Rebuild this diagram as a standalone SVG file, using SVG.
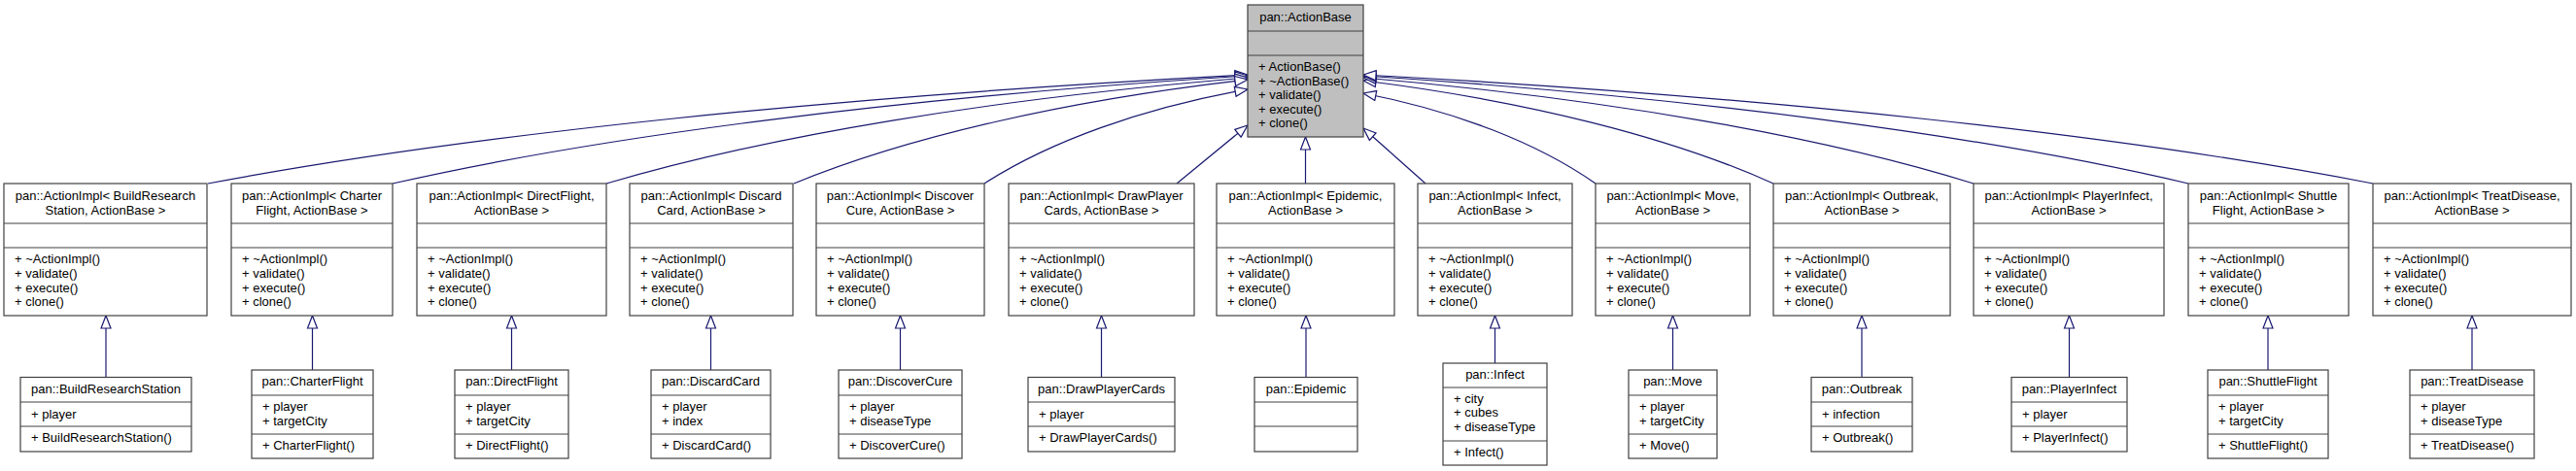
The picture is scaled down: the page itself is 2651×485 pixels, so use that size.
<svg xmlns="http://www.w3.org/2000/svg" width="2651" height="485" viewBox="0 0 2651 485">
<style>
.bx{fill:#ffffff;stroke:#404040;stroke-width:1.2}
.base{fill:#bfbfbf}
.sp{stroke:#404040;stroke-width:1.2}
text{font-family:"Liberation Sans",Arial,Helvetica,sans-serif;font-size:13px;fill:#000000}
.c{text-anchor:middle}
.e{fill:none;stroke:#191970;stroke-width:1.2;marker-end:url(#tri)}
</style>
<defs>
<marker id="tri" markerUnits="userSpaceOnUse" markerWidth="16" markerHeight="12" viewBox="-1 -1 16 12" refX="13" refY="5" orient="auto" overflow="visible">
<path d="M0,0 L13,5 L0,10 Z" fill="#ffffff" stroke="#191970" stroke-width="1.2"/>
</marker>
</defs>
<rect width="2651" height="485" fill="#ffffff"/>

<g id="connectors">
<path class="e" d="M214,189 C481.5,138.6 856,99.4 1284,77"/>
<path class="e" d="M404,189 C624,139 932,100.2 1284,78"/>
<path class="e" d="M624,189 C789,140 1020,101.8 1284,80"/>
<path class="e" d="M817,189 C933.75,140.85 1097.2,103.4 1284,82"/>
<path class="e" d="M1013,189 C1080.75,145.35 1175.6,111.4 1284,92"/>
<path class="e" d="M1211,189 L1284,129"/>
<path class="e" d="M1343.5,189 L1343.5,141"/>
<path class="e" d="M1467,189 L1403,132"/>
<path class="e" d="M1642,189 C1582.25,147.15 1498.6,114.6 1403,96"/>
<path class="e" d="M1825,189 C1719.5,141.3 1571.8,104.2 1403,83"/>
<path class="e" d="M2031,189 C1874,140 1654.2,101.8 1403,80"/>
<path class="e" d="M2252,189 C2039.75,139 1742.6,100.2 1403,78"/>
<path class="e" d="M2442,189 C2182.25,138.6 1818.6,99.4 1403,77"/>
<path class="e" d="M109,388.5 L109,325"/>
<path class="e" d="M321.5,381 L321.5,325"/>
<path class="e" d="M526.5,381 L526.5,325"/>
<path class="e" d="M731.5,381 L731.5,325"/>
<path class="e" d="M926.5,381 L926.5,325"/>
<path class="e" d="M1133.5,388.5 L1133.5,325"/>
<path class="e" d="M1344,388.5 L1344,325"/>
<path class="e" d="M1538.5,374 L1538.5,325"/>
<path class="e" d="M1721.5,381 L1721.5,325"/>
<path class="e" d="M1916,388.5 L1916,325"/>
<path class="e" d="M2129.5,388.5 L2129.5,325"/>
<path class="e" d="M2334,381 L2334,325"/>
<path class="e" d="M2544,381 L2544,325"/>
</g>

<g id="ActionBase">
<rect class="bx base" x="1284" y="5" width="119" height="136"/>
<line class="sp" x1="1284" y1="32" x2="1403" y2="32"/>
<line class="sp" x1="1284" y1="57" x2="1403" y2="57"/>
<text class="c" x="1343.5" y="21.5">pan::ActionBase</text>
<text x="1295" y="73">+ ActionBase()</text>
<text x="1295" y="87.6">+ ~ActionBase()</text>
<text x="1295" y="102.2">+ validate()</text>
<text x="1295" y="116.8">+ execute()</text>
<text x="1295" y="131.4">+ clone()</text>
</g>

<g id="ActionImpl_BuildResearchStation">
<rect class="bx" x="4" y="189" width="209" height="136"/>
<line class="sp" x1="4" y1="230" x2="213" y2="230"/>
<line class="sp" x1="4" y1="255" x2="213" y2="255"/>
<text class="c" x="108.5" y="206.3">pan::ActionImpl&lt; BuildResearch</text>
<text class="c" x="108.5" y="220.6">Station, ActionBase &gt;</text>
<text x="15" y="271.3">+ ~ActionImpl()</text>
<text x="15" y="285.9">+ validate()</text>
<text x="15" y="300.5">+ execute()</text>
<text x="15" y="315.1">+ clone()</text>
</g>

<g id="ActionImpl_CharterFlight">
<rect class="bx" x="238" y="189" width="166" height="136"/>
<line class="sp" x1="238" y1="230" x2="404" y2="230"/>
<line class="sp" x1="238" y1="255" x2="404" y2="255"/>
<text class="c" x="321" y="206.3">pan::ActionImpl&lt; Charter</text>
<text class="c" x="321" y="220.6">Flight, ActionBase &gt;</text>
<text x="249" y="271.3">+ ~ActionImpl()</text>
<text x="249" y="285.9">+ validate()</text>
<text x="249" y="300.5">+ execute()</text>
<text x="249" y="315.1">+ clone()</text>
</g>

<g id="ActionImpl_DirectFlight">
<rect class="bx" x="429" y="189" width="195" height="136"/>
<line class="sp" x1="429" y1="230" x2="624" y2="230"/>
<line class="sp" x1="429" y1="255" x2="624" y2="255"/>
<text class="c" x="526.5" y="206.3">pan::ActionImpl&lt; DirectFlight,</text>
<text class="c" x="526.5" y="220.6">ActionBase &gt;</text>
<text x="440" y="271.3">+ ~ActionImpl()</text>
<text x="440" y="285.9">+ validate()</text>
<text x="440" y="300.5">+ execute()</text>
<text x="440" y="315.1">+ clone()</text>
</g>

<g id="ActionImpl_DiscardCard">
<rect class="bx" x="648" y="189" width="168" height="136"/>
<line class="sp" x1="648" y1="230" x2="816" y2="230"/>
<line class="sp" x1="648" y1="255" x2="816" y2="255"/>
<text class="c" x="732" y="206.3">pan::ActionImpl&lt; Discard</text>
<text class="c" x="732" y="220.6">Card, ActionBase &gt;</text>
<text x="659" y="271.3">+ ~ActionImpl()</text>
<text x="659" y="285.9">+ validate()</text>
<text x="659" y="300.5">+ execute()</text>
<text x="659" y="315.1">+ clone()</text>
</g>

<g id="ActionImpl_DiscoverCure">
<rect class="bx" x="840" y="189" width="173" height="136"/>
<line class="sp" x1="840" y1="230" x2="1013" y2="230"/>
<line class="sp" x1="840" y1="255" x2="1013" y2="255"/>
<text class="c" x="926.5" y="206.3">pan::ActionImpl&lt; Discover</text>
<text class="c" x="926.5" y="220.6">Cure, ActionBase &gt;</text>
<text x="851" y="271.3">+ ~ActionImpl()</text>
<text x="851" y="285.9">+ validate()</text>
<text x="851" y="300.5">+ execute()</text>
<text x="851" y="315.1">+ clone()</text>
</g>

<g id="ActionImpl_DrawPlayerCards">
<rect class="bx" x="1038" y="189" width="191" height="136"/>
<line class="sp" x1="1038" y1="230" x2="1229" y2="230"/>
<line class="sp" x1="1038" y1="255" x2="1229" y2="255"/>
<text class="c" x="1133.5" y="206.3">pan::ActionImpl&lt; DrawPlayer</text>
<text class="c" x="1133.5" y="220.6">Cards, ActionBase &gt;</text>
<text x="1049" y="271.3">+ ~ActionImpl()</text>
<text x="1049" y="285.9">+ validate()</text>
<text x="1049" y="300.5">+ execute()</text>
<text x="1049" y="315.1">+ clone()</text>
</g>

<g id="ActionImpl_Epidemic">
<rect class="bx" x="1252" y="189" width="183" height="136"/>
<line class="sp" x1="1252" y1="230" x2="1435" y2="230"/>
<line class="sp" x1="1252" y1="255" x2="1435" y2="255"/>
<text class="c" x="1343.5" y="206.3">pan::ActionImpl&lt; Epidemic,</text>
<text class="c" x="1343.5" y="220.6">ActionBase &gt;</text>
<text x="1263" y="271.3">+ ~ActionImpl()</text>
<text x="1263" y="285.9">+ validate()</text>
<text x="1263" y="300.5">+ execute()</text>
<text x="1263" y="315.1">+ clone()</text>
</g>

<g id="ActionImpl_Infect">
<rect class="bx" x="1459" y="189" width="159" height="136"/>
<line class="sp" x1="1459" y1="230" x2="1618" y2="230"/>
<line class="sp" x1="1459" y1="255" x2="1618" y2="255"/>
<text class="c" x="1538.5" y="206.3">pan::ActionImpl&lt; Infect,</text>
<text class="c" x="1538.5" y="220.6">ActionBase &gt;</text>
<text x="1470" y="271.3">+ ~ActionImpl()</text>
<text x="1470" y="285.9">+ validate()</text>
<text x="1470" y="300.5">+ execute()</text>
<text x="1470" y="315.1">+ clone()</text>
</g>

<g id="ActionImpl_Move">
<rect class="bx" x="1642" y="189" width="159" height="136"/>
<line class="sp" x1="1642" y1="230" x2="1801" y2="230"/>
<line class="sp" x1="1642" y1="255" x2="1801" y2="255"/>
<text class="c" x="1721.5" y="206.3">pan::ActionImpl&lt; Move,</text>
<text class="c" x="1721.5" y="220.6">ActionBase &gt;</text>
<text x="1653" y="271.3">+ ~ActionImpl()</text>
<text x="1653" y="285.9">+ validate()</text>
<text x="1653" y="300.5">+ execute()</text>
<text x="1653" y="315.1">+ clone()</text>
</g>

<g id="ActionImpl_Outbreak">
<rect class="bx" x="1825" y="189" width="182" height="136"/>
<line class="sp" x1="1825" y1="230" x2="2007" y2="230"/>
<line class="sp" x1="1825" y1="255" x2="2007" y2="255"/>
<text class="c" x="1916" y="206.3">pan::ActionImpl&lt; Outbreak,</text>
<text class="c" x="1916" y="220.6">ActionBase &gt;</text>
<text x="1836" y="271.3">+ ~ActionImpl()</text>
<text x="1836" y="285.9">+ validate()</text>
<text x="1836" y="300.5">+ execute()</text>
<text x="1836" y="315.1">+ clone()</text>
</g>

<g id="ActionImpl_PlayerInfect">
<rect class="bx" x="2031" y="189" width="196" height="136"/>
<line class="sp" x1="2031" y1="230" x2="2227" y2="230"/>
<line class="sp" x1="2031" y1="255" x2="2227" y2="255"/>
<text class="c" x="2129" y="206.3">pan::ActionImpl&lt; PlayerInfect,</text>
<text class="c" x="2129" y="220.6">ActionBase &gt;</text>
<text x="2042" y="271.3">+ ~ActionImpl()</text>
<text x="2042" y="285.9">+ validate()</text>
<text x="2042" y="300.5">+ execute()</text>
<text x="2042" y="315.1">+ clone()</text>
</g>

<g id="ActionImpl_ShuttleFlight">
<rect class="bx" x="2252" y="189" width="165" height="136"/>
<line class="sp" x1="2252" y1="230" x2="2417" y2="230"/>
<line class="sp" x1="2252" y1="255" x2="2417" y2="255"/>
<text class="c" x="2334.5" y="206.3">pan::ActionImpl&lt; Shuttle</text>
<text class="c" x="2334.5" y="220.6">Flight, ActionBase &gt;</text>
<text x="2263" y="271.3">+ ~ActionImpl()</text>
<text x="2263" y="285.9">+ validate()</text>
<text x="2263" y="300.5">+ execute()</text>
<text x="2263" y="315.1">+ clone()</text>
</g>

<g id="ActionImpl_TreatDisease">
<rect class="bx" x="2442" y="189" width="204" height="136"/>
<line class="sp" x1="2442" y1="230" x2="2646" y2="230"/>
<line class="sp" x1="2442" y1="255" x2="2646" y2="255"/>
<text class="c" x="2544" y="206.3">pan::ActionImpl&lt; TreatDisease,</text>
<text class="c" x="2544" y="220.6">ActionBase &gt;</text>
<text x="2453" y="271.3">+ ~ActionImpl()</text>
<text x="2453" y="285.9">+ validate()</text>
<text x="2453" y="300.5">+ execute()</text>
<text x="2453" y="315.1">+ clone()</text>
</g>

<g id="BuildResearchStation">
<rect class="bx" x="21" y="388.5" width="176" height="76.5"/>
<line class="sp" x1="21" y1="414" x2="197" y2="414"/>
<line class="sp" x1="21" y1="439" x2="197" y2="439"/>
<text class="c" x="109" y="405.3">pan::BuildResearchStation</text>
<text x="32" y="430.6">+ player</text>
<text x="32" y="455.3">+ BuildResearchStation()</text>
</g>

<g id="CharterFlight">
<rect class="bx" x="259" y="381" width="125" height="91"/>
<line class="sp" x1="259" y1="407" x2="384" y2="407"/>
<line class="sp" x1="259" y1="447" x2="384" y2="447"/>
<text class="c" x="321.5" y="397">pan::CharterFlight</text>
<text x="270" y="423.2">+ player</text>
<text x="270" y="437.5">+ targetCity</text>
<text x="270" y="462.9">+ CharterFlight()</text>
</g>

<g id="DirectFlight">
<rect class="bx" x="468" y="381" width="117" height="91"/>
<line class="sp" x1="468" y1="407" x2="585" y2="407"/>
<line class="sp" x1="468" y1="447" x2="585" y2="447"/>
<text class="c" x="526.5" y="397">pan::DirectFlight</text>
<text x="479" y="423.2">+ player</text>
<text x="479" y="437.5">+ targetCity</text>
<text x="479" y="462.9">+ DirectFlight()</text>
</g>

<g id="DiscardCard">
<rect class="bx" x="670" y="381" width="123" height="91"/>
<line class="sp" x1="670" y1="407" x2="793" y2="407"/>
<line class="sp" x1="670" y1="447" x2="793" y2="447"/>
<text class="c" x="731.5" y="397">pan::DiscardCard</text>
<text x="681" y="423.2">+ player</text>
<text x="681" y="437.5">+ index</text>
<text x="681" y="462.9">+ DiscardCard()</text>
</g>

<g id="DiscoverCure">
<rect class="bx" x="863" y="381" width="127" height="91"/>
<line class="sp" x1="863" y1="407" x2="990" y2="407"/>
<line class="sp" x1="863" y1="447" x2="990" y2="447"/>
<text class="c" x="926.5" y="397">pan::DiscoverCure</text>
<text x="874" y="423.2">+ player</text>
<text x="874" y="437.5">+ diseaseType</text>
<text x="874" y="462.9">+ DiscoverCure()</text>
</g>

<g id="DrawPlayerCards">
<rect class="bx" x="1058" y="388.5" width="151" height="76.5"/>
<line class="sp" x1="1058" y1="414" x2="1209" y2="414"/>
<line class="sp" x1="1058" y1="439" x2="1209" y2="439"/>
<text class="c" x="1133.5" y="405.3">pan::DrawPlayerCards</text>
<text x="1069" y="430.6">+ player</text>
<text x="1069" y="455.3">+ DrawPlayerCards()</text>
</g>

<g id="Epidemic">
<rect class="bx" x="1291" y="388.5" width="106" height="76.5"/>
<line class="sp" x1="1291" y1="414" x2="1397" y2="414"/>
<line class="sp" x1="1291" y1="439" x2="1397" y2="439"/>
<text class="c" x="1344" y="405.3">pan::Epidemic</text>
</g>

<g id="Infect">
<rect class="bx" x="1485" y="374" width="107" height="105"/>
<line class="sp" x1="1485" y1="399" x2="1592" y2="399"/>
<line class="sp" x1="1485" y1="454" x2="1592" y2="454"/>
<text class="c" x="1538.5" y="390.3">pan::Infect</text>
<text x="1496" y="414.6">+ city</text>
<text x="1496" y="429.4">+ cubes</text>
<text x="1496" y="444.2">+ diseaseType</text>
<text x="1496" y="469.6">+ Infect()</text>
</g>

<g id="Move">
<rect class="bx" x="1676" y="381" width="91" height="91"/>
<line class="sp" x1="1676" y1="407" x2="1767" y2="407"/>
<line class="sp" x1="1676" y1="447" x2="1767" y2="447"/>
<text class="c" x="1721.5" y="397">pan::Move</text>
<text x="1687" y="423.2">+ player</text>
<text x="1687" y="437.5">+ targetCity</text>
<text x="1687" y="462.9">+ Move()</text>
</g>

<g id="Outbreak">
<rect class="bx" x="1864" y="388.5" width="104" height="76.5"/>
<line class="sp" x1="1864" y1="414" x2="1968" y2="414"/>
<line class="sp" x1="1864" y1="439" x2="1968" y2="439"/>
<text class="c" x="1916" y="405.3">pan::Outbreak</text>
<text x="1875" y="430.6">+ infection</text>
<text x="1875" y="455.3">+ Outbreak()</text>
</g>

<g id="PlayerInfect">
<rect class="bx" x="2070" y="388.5" width="119" height="76.5"/>
<line class="sp" x1="2070" y1="414" x2="2189" y2="414"/>
<line class="sp" x1="2070" y1="439" x2="2189" y2="439"/>
<text class="c" x="2129.5" y="405.3">pan::PlayerInfect</text>
<text x="2081" y="430.6">+ player</text>
<text x="2081" y="455.3">+ PlayerInfect()</text>
</g>

<g id="ShuttleFlight">
<rect class="bx" x="2272" y="381" width="124" height="91"/>
<line class="sp" x1="2272" y1="407" x2="2396" y2="407"/>
<line class="sp" x1="2272" y1="447" x2="2396" y2="447"/>
<text class="c" x="2334" y="397">pan::ShuttleFlight</text>
<text x="2283" y="423.2">+ player</text>
<text x="2283" y="437.5">+ targetCity</text>
<text x="2283" y="462.9">+ ShuttleFlight()</text>
</g>

<g id="TreatDisease">
<rect class="bx" x="2480" y="381" width="128" height="91"/>
<line class="sp" x1="2480" y1="407" x2="2608" y2="407"/>
<line class="sp" x1="2480" y1="447" x2="2608" y2="447"/>
<text class="c" x="2544" y="397">pan::TreatDisease</text>
<text x="2491" y="423.2">+ player</text>
<text x="2491" y="437.5">+ diseaseType</text>
<text x="2491" y="462.9">+ TreatDisease()</text>
</g>
</svg>
